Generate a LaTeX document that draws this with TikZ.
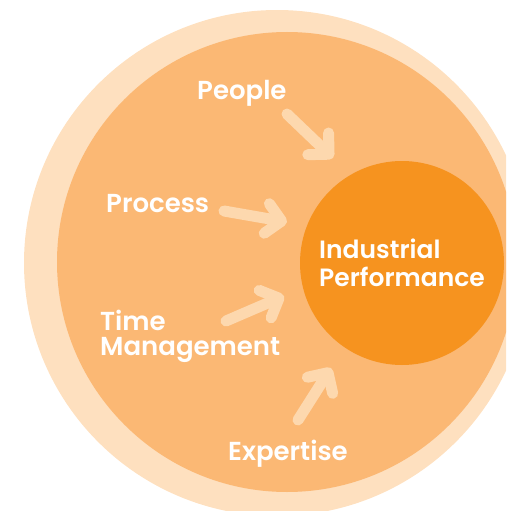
\documentclass[tikz,border=0pt]{standalone}
\usepackage{fontspec}
\setmainfont{Poppins}[BoldFont={Poppins SemiBold}]
\usetikzlibrary{arrows.meta}

\definecolor{paleorange}{HTML}{FEE0BF}
\definecolor{midorange}{HTML}{FBB874}
\definecolor{deeporange}{HTML}{F6931F}
\definecolor{arrowpeach}{HTML}{FDD8AE}

\begin{document}
\begin{tikzpicture}[x=1pt,y=-1pt,
  factor/.style={text=white,inner sep=0pt,anchor=base west,align=left,
    font=\bfseries\fontsize{26}{25}\selectfont},
  feed/.style={arrowpeach,line width=11pt,line cap=round,
    -{Straight Barb[length=15pt,width=30pt,round]}},
  core/.style={circle,fill=deeporange,minimum size=204pt,inner sep=0pt,
    text=white,align=left,font=\bfseries\fontsize{25}{28}\selectfont}]
\clip (0,0) rectangle (506,511);
\fill[paleorange] (277,263) circle (253pt);
\fill[midorange] (287,262) circle (230pt);
\node[core] (core) at (402,263) {Industrial\\Performance};
% the four factors
\node[factor] (people) at (197,99) {People};
\node[factor] (process) at (106,212) {Process};
\node[factor] (timemgmt) at (100,355) {Time\\Management};
\node[factor] (expertise) at (228,460) {Expertise};
\coordinate (people-a) at (287,114);
\coordinate (people-b) at (333,158);
\coordinate (process-a) at (224,211);
\coordinate (process-b) at (287,222);
\coordinate (timemgmt-a) at (226,321);
\coordinate (timemgmt-b) at (284,296);
\coordinate (expertise-a) at (298,420);
\coordinate (expertise-b) at (331,368);
\foreach \n in {people,process,timemgmt,expertise} {
 \draw[feed] (\n-a) -- (\n-b);
}
\end{tikzpicture}
\end{document}
